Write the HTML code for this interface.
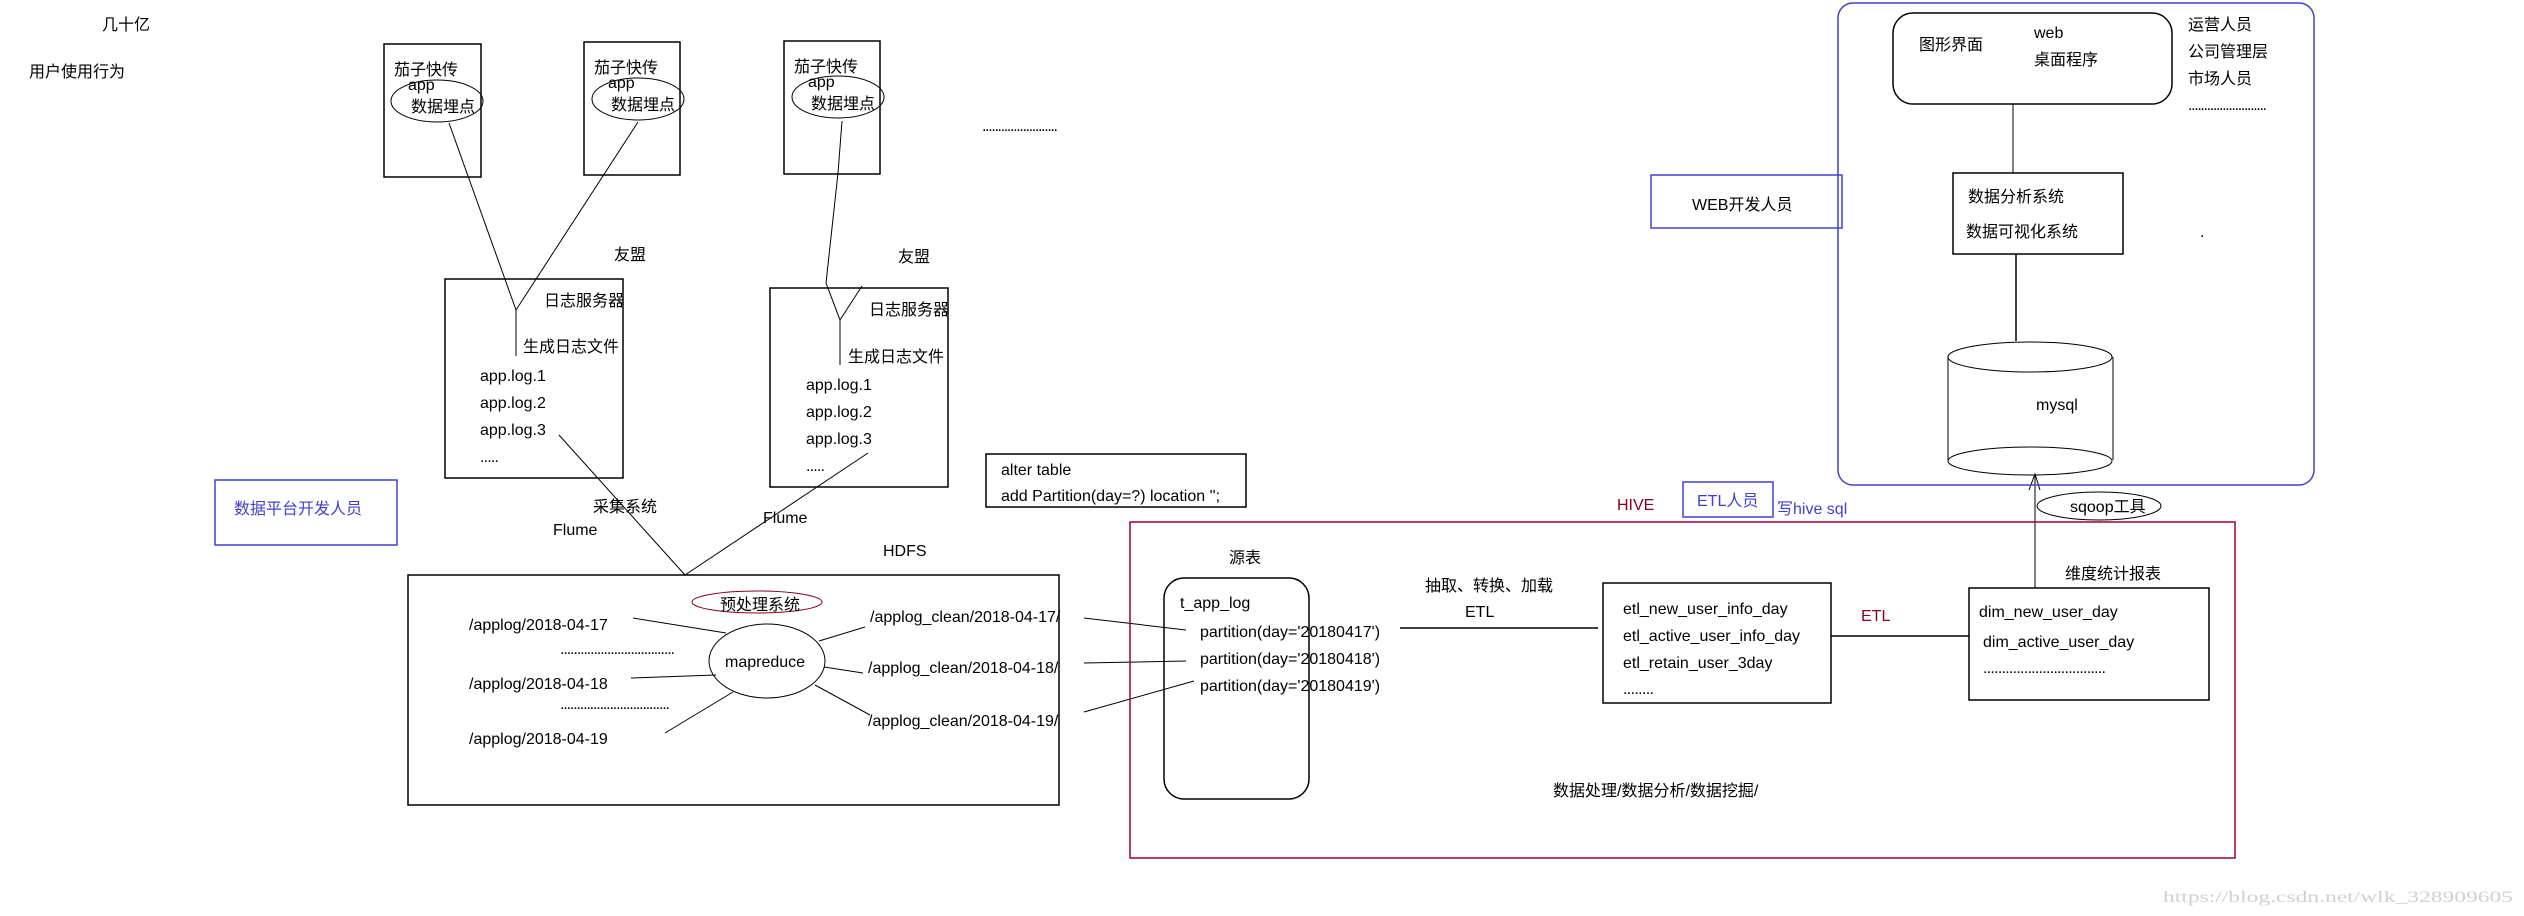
<!DOCTYPE html>
<html><head><meta charset="utf-8"><style>
html,body{margin:0;padding:0;background:#fff;}
svg{display:block;}
text{font-family:"Liberation Sans","Noto Sans CJK SC",sans-serif;font-size:16px;fill:#000;}
</style></head><body>
<svg width="2524" height="916" xmlns="http://www.w3.org/2000/svg">
<g fill="none" stroke="#000" stroke-width="1.5">
<rect x="384" y="44" width="97" height="133"/>
<rect x="584" y="42" width="96" height="133"/>
<rect x="784" y="41" width="96" height="133"/>
<ellipse cx="437" cy="101" rx="46" ry="21" stroke-width="1"/>
<ellipse cx="638" cy="99" rx="46" ry="21" stroke-width="1"/>
<ellipse cx="838" cy="97" rx="46" ry="21" stroke-width="1"/>
<rect x="445" y="279" width="178" height="199"/>
<rect x="770" y="288" width="178" height="199"/>
<polyline points="449,123 516,310 516,356" stroke-width="1"/>
<line x1="638" y1="122" x2="516" y2="310" stroke-width="1"/>
<polyline points="842,121 838,173 826,283 840,320 840,365" stroke-width="1"/>
<line x1="862" y1="286" x2="840" y2="320" stroke-width="1"/>
<line x1="559" y1="435" x2="685" y2="575" stroke-width="1"/>
<line x1="868" y1="453" x2="685" y2="575" stroke-width="1"/>
<rect x="408" y="575" width="651" height="230"/>
<ellipse cx="767" cy="661" rx="58" ry="37" stroke-width="1"/>
<line x1="633" y1="618" x2="726" y2="633" stroke-width="1"/>
<line x1="631" y1="678" x2="716" y2="675" stroke-width="1"/>
<line x1="665" y1="733" x2="733" y2="692" stroke-width="1"/>
<line x1="819" y1="641" x2="865" y2="627" stroke-width="1"/>
<line x1="824" y1="667" x2="863" y2="673" stroke-width="1"/>
<line x1="815" y1="685" x2="870" y2="715" stroke-width="1"/>
<line x1="1084" y1="618" x2="1186" y2="630" stroke-width="1"/>
<line x1="1084" y1="663" x2="1186" y2="661" stroke-width="1"/>
<line x1="1084" y1="712" x2="1194" y2="681" stroke-width="1"/>
<rect x="986" y="454" width="260" height="53"/>
<rect x="1164" y="578" width="145" height="221" rx="20"/>
<line x1="1400" y1="628" x2="1598" y2="628"/>
<rect x="1603" y="583" width="228" height="120"/>
<line x1="1831" y1="636" x2="1969" y2="636"/>
<rect x="1969" y="588" width="240" height="112"/>
<line x1="2035" y1="588" x2="2035" y2="474" stroke-width="1"/>
<polyline points="2029,490 2035,474 2040,490" stroke-width="1"/>
<ellipse cx="2099" cy="506" rx="62" ry="14" stroke-width="1"/>
<rect x="1893" y="13" width="279" height="91" rx="20"/>
<line x1="2013" y1="104" x2="2013" y2="173" stroke-width="1"/>
<rect x="1953" y="173" width="170" height="81"/>
<line x1="2016" y1="254" x2="2016" y2="341"/>
<path d="M1948,357 L1948,460 M2113,357 L2113,460" stroke-width="1"/>
<ellipse cx="2030" cy="357" rx="82" ry="15" stroke-width="1"/>
<ellipse cx="2030" cy="461" rx="82" ry="14" stroke-width="1"/>
</g>
<g fill="none" stroke-width="1.5">
<rect x="215" y="480" width="182" height="65" stroke="#4040d0"/>
<rect x="1651" y="175" width="191" height="53" stroke="#4040d0"/>
<rect x="1683" y="482" width="90" height="35" stroke="#4040d0"/>
<rect x="1838" y="3" width="476" height="482" rx="15" stroke="#4040d0"/>
<rect x="1130" y="522" width="1105" height="336" stroke="#a00030"/>
<ellipse cx="757" cy="602" rx="65" ry="11" stroke="#8b0020" stroke-width="1"/>
</g>
<g>
<text x="102" y="30" font-size="15">几十亿</text>
<text x="29" y="77" font-size="15">用户使用行为</text>
<text x="394" y="75">茄子快传</text><text x="408" y="90">app</text><text x="411" y="112">数据埋点</text>
<text x="594" y="73">茄子快传</text><text x="608" y="88">app</text><text x="611" y="110">数据埋点</text>
<text x="794" y="72">茄子快传</text><text x="808" y="87">app</text><text x="811" y="109">数据埋点</text>
<text x="982" y="131" font-size="12" textLength="76" lengthAdjust="spacing">........................</text>
<text x="614" y="260" font-size="15">友盟</text>
<text x="898" y="262" font-size="15">友盟</text>
<text x="544" y="306" font-size="15">日志服务器</text>
<text x="523" y="352" font-size="15">生成日志文件</text>
<text x="480" y="381">app.log.1</text><text x="480" y="408">app.log.2</text><text x="480" y="435">app.log.3</text><text x="480" y="462" font-size="12" textLength="19">.....</text>
<text x="869" y="315" font-size="15">日志服务器</text>
<text x="848" y="362" font-size="15">生成日志文件</text>
<text x="806" y="390">app.log.1</text><text x="806" y="417">app.log.2</text><text x="806" y="444">app.log.3</text><text x="806" y="471" font-size="12" textLength="19">.....</text>
<text x="234" y="514" font-size="15" style="fill:#4040d0">数据平台开发人员</text>
<text x="593" y="512" font-size="15">采集系统</text>
<text x="553" y="535">Flume</text>
<text x="763" y="523">Flume</text>
<text x="883" y="556">HDFS</text>
<text x="1001" y="475">alter table</text>
<text x="1001" y="501">add Partition(day=?) location '';</text>
<text x="720" y="610" font-size="15">预处理系统</text>
<text x="725" y="667">mapreduce</text>
<text x="469" y="630">/applog/2018-04-17</text>
<text x="560" y="654" font-size="12" textLength="115" lengthAdjust="spacing">..................................</text>
<text x="469" y="689">/applog/2018-04-18</text>
<text x="560" y="709" font-size="12" textLength="110" lengthAdjust="spacing">.................................</text>
<text x="469" y="744">/applog/2018-04-19</text>
<text x="870" y="622">/applog_clean/2018-04-17/</text>
<text x="868" y="673">/applog_clean/2018-04-18/</text>
<text x="868" y="726">/applog_clean/2018-04-19/</text>
<text x="1617" y="510" style="fill:#8b0020">HIVE</text>
<text x="1697" y="506" font-size="15" style="fill:#4040d0">ETL人员</text>
<text x="1777" y="514" font-size="15" style="fill:#4040d0">写hive sql</text>
<text x="2070" y="512">sqoop工具</text>
<text x="1229" y="563" font-size="15">源表</text>
<text x="1180" y="608">t_app_log</text>
<text x="1200" y="637">partition(day='20180417')</text>
<text x="1200" y="664">partition(day='20180418')</text>
<text x="1200" y="691">partition(day='20180419')</text>
<text x="1425" y="591" font-size="15">抽取、转换、加载</text>
<text x="1465" y="617">ETL</text>
<text x="1623" y="614">etl_new_user_info_day</text>
<text x="1623" y="641">etl_active_user_info_day</text>
<text x="1623" y="668">etl_retain_user_3day</text>
<text x="1623" y="694" font-size="12" textLength="31">........</text>
<text x="1861" y="621" style="fill:#8b0020">ETL</text>
<text x="2065" y="579" font-size="15">维度统计报表</text>
<text x="1979" y="617">dim_new_user_day</text>
<text x="1983" y="647">dim_active_user_day</text>
<text x="1983" y="673" font-size="12" textLength="123" lengthAdjust="spacing">.................................</text>
<text x="1553" y="796" font-size="15">数据处理/数据分析/数据挖掘/</text>
<text x="1692" y="210" font-size="15">WEB开发人员</text>
<text x="1919" y="50" font-size="15">图形界面</text>
<text x="2034" y="38" font-size="15">web</text>
<text x="2034" y="65" font-size="15">桌面程序</text>
<text x="2188" y="30" font-size="15">运营人员</text>
<text x="2188" y="57" font-size="15">公司管理层</text>
<text x="2188" y="84" font-size="15">市场人员</text>
<text x="2188" y="110" font-size="12" textLength="79" lengthAdjust="spacing">.........................</text>
<text x="2200" y="237" font-size="10">.</text>
<text x="1968" y="202" font-size="15">数据分析系统</text>
<text x="1966" y="237" font-size="15">数据可视化系统</text>
<text x="2036" y="410">mysql</text>
<text x="2163" y="902" font-size="18" textLength="350" lengthAdjust="spacingAndGlyphs" style="fill:#d0d0d0;font-family:'Liberation Serif',serif">https://blog.csdn.net/wlk_328909605</text>
</g>
</svg>
</body></html>
